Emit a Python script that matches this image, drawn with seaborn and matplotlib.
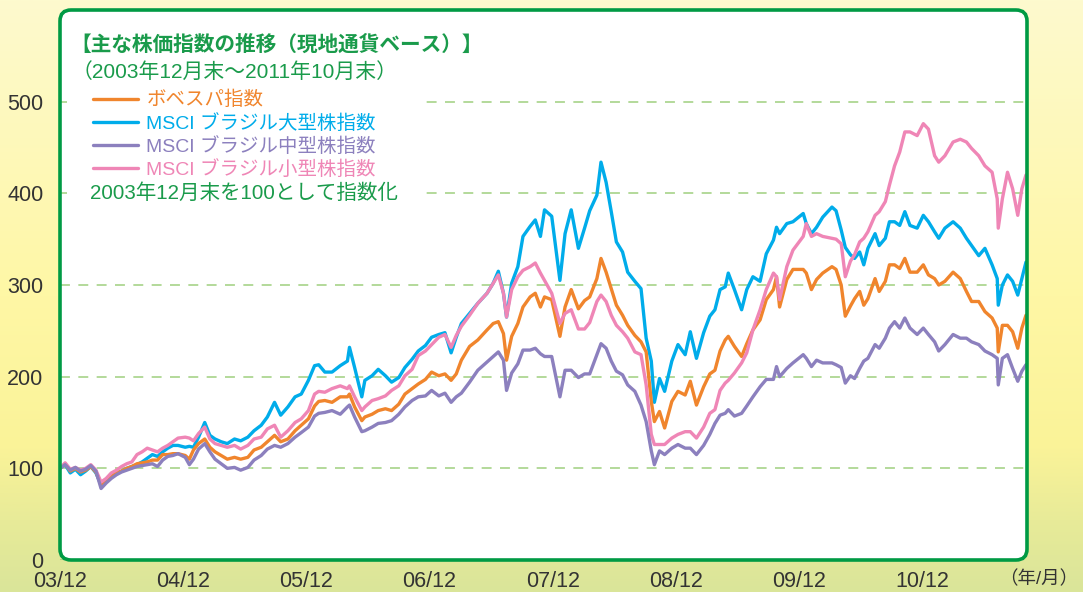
import numpy as np
import pandas as pd
import seaborn as sns
import matplotlib
matplotlib.use("Agg")
import matplotlib.pyplot as plt
from matplotlib.patches import FancyBboxPatch, Rectangle
from matplotlib.colors import LinearSegmentedColormap

# months elapsed since end of Dec 2003
months = [0.0, 0.5, 1.0, 1.5, 2.0, 2.5, 3.0, 3.5, 4.0, 4.5, 5.0, 5.5, 6.0, 6.5, 7.0, 7.5, 8.0, 8.5, 9.0, 9.5,
          10.0, 10.5, 11.0, 11.5, 12.2, 12.6, 13.0, 13.5, 14.1, 14.6, 15.1, 15.7, 16.3, 17.0, 17.6, 18.3, 18.9, 19.6,
          20.2, 20.9, 21.5, 22.2, 22.9, 23.5, 24.2, 24.8, 25.2, 25.8, 26.5, 27.3, 28.0, 28.2, 28.7, 29.4, 29.7,
          30.4, 31.0, 31.7, 32.3, 33.0, 33.6, 34.3, 34.9, 35.6, 36.2, 36.9, 37.5, 38.1, 38.6, 39.1, 39.9, 40.7,
          41.6, 42.2, 42.7, 43.2, 43.5, 44.0, 44.6, 45.1, 45.8, 46.3, 46.8, 47.2, 47.9, 48.7, 49.2, 49.8, 50.5,
          51.1, 51.6, 52.3, 52.7, 53.2, 53.7, 54.2, 54.8, 55.3, 56.0, 56.6, 57.1, 57.6, 57.9, 58.4, 58.9, 59.6,
          60.2, 60.9, 61.4, 62.0, 62.7, 63.3, 63.8, 64.3, 64.8, 65.1, 65.7, 66.4, 66.9, 67.5, 68.2, 68.8, 69.5,
          69.8, 70.1, 70.8, 71.4, 72.4, 72.7, 73.2, 73.7, 74.3, 75.2, 75.6, 76.1, 76.5, 77.0, 77.4, 77.9, 78.3,
          78.7, 79.4, 79.8, 80.4, 80.8, 81.3, 81.8, 82.3, 82.8, 83.5, 84.1, 84.6, 85.2, 85.6, 86.2, 87.0, 87.7,
          88.3, 88.8, 89.5, 90.1, 90.8, 91.3, 91.4, 91.8, 92.3, 92.8, 93.3, 93.7, 94.1]

bovespa = [100, 105, 97, 100, 96, 98, 102, 96, 82, 86, 91, 95, 97, 100, 102, 105, 106, 107, 109, 109,
           115, 115, 116, 116, 114, 110, 120, 127, 132, 123, 118, 114, 110, 112, 110, 112, 120, 123,
           129, 136, 129, 132, 141, 147, 154, 168, 173, 174, 172, 178, 178, 181, 167, 152, 156,
           159, 163, 165, 163, 170, 181, 187, 192, 197, 205, 201, 203, 196, 203, 218, 233, 240,
           251, 258, 260, 247, 218, 244, 258, 276, 287, 291, 276, 287, 284, 244, 276, 295, 274,
           283, 287, 307, 329, 314, 296, 278, 267, 256, 245, 238, 227, 173, 151, 162, 144, 173,
           184, 180, 195, 169, 189, 203, 207, 228, 240, 244, 233, 222, 236, 251, 262, 284, 295,
           309, 276, 306, 317, 317, 313, 295, 306, 313, 320, 317, 300, 266, 277, 285, 293, 278,
           285, 307, 293, 304, 322, 322, 318, 329, 314, 314, 322, 311, 307, 300, 304, 314, 307,
           293, 282, 282, 271, 264, 253, 227, 256, 256, 249, 231, 253, 267]

msci_large = [100, 104, 95, 99, 93, 97, 102, 95, 82, 87, 91, 95, 97, 100, 102, 104, 107, 111, 115, 113,
              118, 122, 125, 125, 123, 124, 123, 134, 150, 136, 132, 129, 127, 132, 130, 134, 141, 147,
              156, 172, 158, 167, 178, 181, 196, 212, 213, 205, 205, 212, 217, 232, 210, 178, 196,
              201, 208, 201, 194, 199, 210, 219, 228, 234, 243, 246, 248, 226, 243, 258, 269, 280,
              291, 302, 315, 291, 265, 302, 320, 353, 364, 371, 353, 382, 375, 305, 356, 382, 340,
              362, 381, 398, 434, 412, 380, 347, 336, 314, 304, 296, 242, 217, 172, 198, 184, 217,
              235, 224, 249, 220, 248, 266, 273, 295, 298, 313, 295, 273, 295, 309, 304, 334, 349,
              363, 356, 367, 369, 378, 367, 356, 363, 374, 385, 381, 360, 341, 333, 329, 336, 322,
              340, 356, 343, 351, 369, 369, 365, 380, 365, 362, 376, 369, 358, 351, 362, 369, 362,
              351, 343, 332, 340, 322, 307, 278, 300, 311, 304, 289, 307, 325]

msci_mid = [100, 104, 98, 101, 97, 99, 103, 97, 78, 84, 89, 93, 96, 98, 100, 102, 103, 104, 105, 102,
            109, 113, 114, 116, 112, 104, 110, 121, 127, 118, 110, 105, 100, 101, 98, 101, 109, 114,
            121, 125, 123, 127, 134, 139, 145, 157, 160, 161, 163, 159, 167, 169, 156, 140, 141,
            145, 149, 150, 152, 159, 167, 174, 178, 179, 185, 179, 182, 172, 178, 182, 194, 207,
            216, 222, 227, 218, 185, 204, 214, 229, 229, 231, 225, 222, 222, 178, 207, 207, 199,
            203, 203, 224, 236, 231, 217, 206, 202, 191, 184, 169, 151, 119, 104, 119, 115, 122,
            126, 122, 122, 115, 125, 137, 149, 158, 160, 164, 157, 160, 168, 178, 189, 197, 197,
            211, 200, 209, 215, 224, 220, 211, 218, 215, 215, 213, 210, 193, 201, 198, 209, 217,
            220, 235, 231, 242, 253, 260, 253, 264, 253, 246, 253, 246, 238, 228, 235, 246, 242,
            242, 238, 235, 228, 224, 220, 191, 220, 224, 209, 195, 206, 213]

msci_small = [100, 106, 99, 101, 98, 100, 104, 98, 85, 89, 95, 98, 102, 105, 107, 115, 118, 122, 120, 118,
              122, 125, 129, 133, 134, 133, 130, 138, 145, 132, 127, 125, 123, 125, 121, 125, 132, 134,
              143, 147, 134, 141, 150, 154, 163, 181, 184, 183, 187, 190, 187, 190, 178, 163, 167,
              174, 176, 179, 185, 190, 201, 208, 223, 228, 235, 243, 246, 232, 245, 255, 267, 280,
              291, 302, 311, 291, 265, 295, 309, 316, 320, 324, 313, 305, 291, 258, 269, 273, 252,
              252, 259, 282, 289, 282, 267, 256, 249, 242, 227, 224, 191, 137, 126, 126, 126, 133,
              137, 140, 140, 133, 145, 160, 164, 185, 193, 196, 204, 215, 226, 251, 273, 295, 313,
              309, 284, 320, 338, 353, 367, 353, 356, 353, 351, 350, 345, 309, 326, 333, 347, 351,
              358, 376, 380, 391, 409, 430, 445, 467, 467, 463, 476, 470, 441, 434, 441, 456, 459,
              456, 449, 441, 430, 423, 394, 362, 394, 423, 405, 376, 405, 420]

series_names = ["ボベスパ指数", "MSCI ブラジル大型株指数", "MSCI ブラジル中型株指数", "MSCI ブラジル小型株指数"]
series_colors = ["#f0852d", "#00acea", "#8c80be", "#ef86b6"]
xtick_months = [0, 12, 24, 36, 48, 60, 72, 84]
xtick_labels = ["03/12", "04/12", "05/12", "06/12", "07/12", "08/12", "09/12", "10/12"]
ytick_values = [0, 100, 200, 300, 400, 500]

title_text = "【主な株価指数の推移（現地通貨ベース）】"
period_text = "（2003年12月末〜2011年10月末）"
note_text = "2003年12月末を100として指数化"
unit_text = "（年/月）"

df = pd.DataFrame({"month": months, series_names[0]: bovespa, series_names[1]: msci_large,
                   series_names[2]: msci_mid, series_names[3]: msci_small})

sns.set_style("white")
plt.rcParams['font.family'] = ['Liberation Sans', 'Noto Sans CJK JP', 'DejaVu Sans']

W, H = 1083, 592
fig = plt.figure(figsize=(W / 100, H / 100), dpi=100)

# background gradient
bg = fig.add_axes([0, 0, 1, 1])
bg.set_xlim(0, W)
bg.set_ylim(H, 0)
bg.axis('off')
cmap = LinearSegmentedColormap.from_list('bg', [
    (0.0, (253/255, 250/255, 206/255)),
    (0.5, (255/255, 247/255, 165/255)),
    (0.76, (250/255, 243/255, 152/255)),
    (0.88, (232/255, 235/255, 152/255)),
    (1.0, (218/255, 229/255, 154/255))])
grad = np.linspace(0, 1, 256).reshape(-1, 1)
bg.imshow(grad, cmap=cmap, extent=(0, W, H, 0), aspect='auto', zorder=0)
box_kw = dict(boxstyle="round,pad=0,rounding_size=11")
bg.add_patch(FancyBboxPatch((60, 10), 967, 550, fc='white', ec='none', zorder=1, **box_kw))

ax = fig.add_axes([60 / W, (H - 560) / H, 967 / W, 550 / H])
ax.patch.set_alpha(0)

draw_order = [1, 0, 3, 2]
for i in draw_order:
    sns.lineplot(data=df, x="month", y=series_names[i], color=series_colors[i], lw=2.4,
                 label=series_names[i], ax=ax, zorder=2)

ax.set_xlim(0, 94.2)
ax.set_ylim(0, 600)
ax.set_xlabel("")
ax.set_ylabel("")
for s in ax.spines.values():
    s.set_visible(False)
ax.set_xticks(xtick_months)
ax.set_xticklabels(xtick_labels)
ax.set_yticks(ytick_values)
ax.tick_params(axis='x', direction='in', length=5, width=1.2, color='#b8dc9c', pad=8,
               labelsize=15.5, labelcolor='#333333')
ax.tick_params(axis='y', length=0, pad=12, labelsize=15.5, labelcolor='#333333')
ax.set_axisbelow(True)
ax.yaxis.grid(True, color='#9fd07f', lw=1.1, ls=(0, (6.5, 5.5)))
ax.xaxis.grid(False)

# white panel behind legend
ax.add_patch(Rectangle((67, 28), 352, 178, transform=bg.transData, fc='white', ec='none',
                       zorder=1, clip_on=False))

green = '#1a9b4b'
ax.text(70, 45, title_text, transform=bg.transData, fontsize=14.9, color=green,
        fontweight='bold', va='center', ha='left', zorder=5, clip_on=False)
ax.text(72, 72, period_text, transform=bg.transData, fontsize=15, color=green,
        va='center', ha='left', zorder=5, clip_on=False)
ax.text(90, 193, note_text, transform=bg.transData, fontsize=14.8, color=green,
        va='center', ha='left', zorder=5, clip_on=False)
ax.text(1078, 579, unit_text, transform=bg.transData, fontsize=13.3, color='#333333',
        va='center', ha='right', zorder=5, clip_on=False)

handles, labels = ax.get_legend_handles_labels()
hmap = dict(zip(labels, handles))
leg = ax.legend([hmap[n] for n in series_names], series_names, loc='upper left',
                bbox_to_anchor=(93, 91), bbox_transform=bg.transData, frameon=False,
                labelcolor='linecolor', fontsize=14, handlelength=2.3, handletextpad=0.45,
                labelspacing=0.22, borderpad=0, borderaxespad=0)
leg.set_zorder(6)

ax.add_patch(FancyBboxPatch((60, 10), 967, 550, fill=False, ec='#009a44', lw=2.6,
                            transform=bg.transData, clip_on=False, zorder=10, **box_kw))

fig.savefig("out.png", dpi=100)
